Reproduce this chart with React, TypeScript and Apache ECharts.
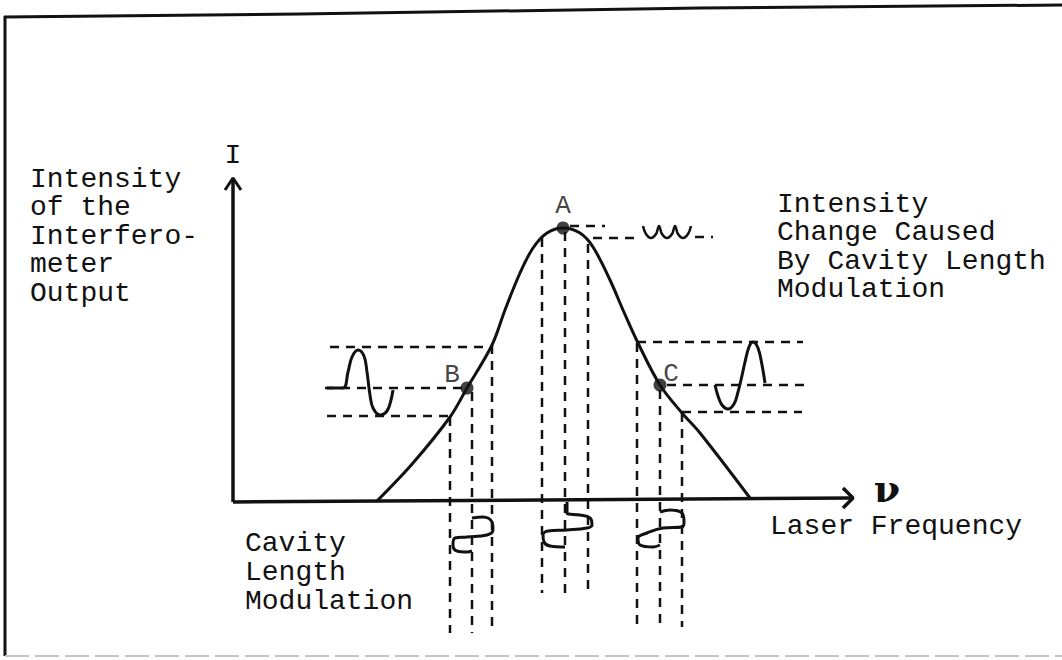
import React, { useEffect, useRef } from "react";
import * as echarts from "echarts";

const W = 1062;
const H = 660;
// page position of the diagram origin (ν = 0, I = 0)
const OX = 233;
const OY = 502;

// Interferometer transmission curve, [ν, I]
const curve: [number, number][] = [
  [144, 1], [180, 39], [217, 85], [234, 114], [259, 157], [272, 192], [287, 229],
  [300, 254], [314, 269], [330, 274], [347, 269], [360, 255], [377, 222], [390, 192],
  [405, 159], [427, 117], [449, 89], [467, 69], [517, 4],
];

// operating points
const pointNames = ["A", "B", "C"];
const pointValues: [number, number][] = [[330, 274], [234, 114], [427, 117]];

// vertical projection lines [ν, Itop, Ibottom]
const verticals: [number, number, number][] = [
  [217, 85, -131], [239, 110, -131], [259, 157, -131],
  [309, 264, -91], [332, 270, -91], [355, 258, -91],
  [404, 159, -125], [427, 112, -125], [449, 89, -125],
];

// horizontal projection lines [I, νstart, νend]
const horizontals: [number, number, number][] = [
  [155, 97, 259], [114, 92, 234], [86, 94, 217],
  [160, 404, 570], [117, 434, 574], [90, 449, 569],
  [276, 337, 372], [264, 360, 405], [265, 462, 480],
];

// intensity waveforms
const waveB: [number, number][] = [
  [94, 114], [110, 114], [115, 130], [119, 145], [125, 152], [131, 146], [134, 130],
  [137, 107], [140, 94], [147, 87], [154, 91], [158, 102], [160, 112],
];
const waveC: [number, number][] = [
  [482, 117], [485, 106], [489, 97], [495, 93], [501, 98], [505, 110], [508, 122],
  [512, 140], [516, 155], [520, 160], [525, 154], [529, 137], [532, 119],
];
const waveA: [number, number][] = [
  [410, 276], [413, 268], [418, 264], [423, 268], [426, 276], [429, 268], [434, 264],
  [439, 268], [442, 276], [445, 268], [450, 264], [455, 268], [458, 276],
];

// cavity length modulation glyphs below the axis
const modB: [number, number][] = [
  [239, -16], [250, -15], [259, -20], [260, -28], [254, -33], [234, -35], [222, -36],
  [220, -43], [224, -49], [234, -50], [239, -49],
];
const modA: [number, number][] = [
  [334, 0], [334, -11], [347, -13], [357, -16], [359, -23], [354, -26], [334, -28],
  [315, -29], [310, -33], [311, -40], [317, -44], [332, -45],
];
const modC: [number, number][] = [
  [427, -10], [437, -8], [449, -11], [451, -20], [449, -25], [430, -26], [414, -31],
  [405, -36], [407, -43], [420, -45], [427, -43],
];

// axes
const xAxisLine: [number, number][] = [[0, 0], [620, 4]];
const xArrow: [number, number][] = [[610, 14], [620, 4], [610, -6]];
const yAxisLine: [number, number][] = [[0, 0], [0, 324]];
const yArrow: [number, number][] = [[-8, 312], [0, 324], [8, 312]];

const leftLines = ["Intensity", "of the", "Interfero-", "meter", "Output"];
const rightLines = ["Intensity", "Change Caused", "By Cavity Length", "Modulation"];
const bottomLines = ["Cavity", "Length", "Modulation"];

const INK = "#111";
const MONO = '"Liberation Mono", monospace';
const FONT = `28px ${MONO}`;

function lineSeries(data: [number, number][], width: number, dashed: boolean, smooth: number | boolean = false) {
  return {
    type: "line",
    data,
    symbol: "none",
    smooth,
    silent: true,
    lineStyle: { color: INK, width, type: dashed ? [9, 7] : "solid", cap: "butt" },
    z: dashed ? 2 : 3,
  };
}

function textEl(text: string, x: number, y: number, font = FONT, align = "left") {
  return {
    type: "text",
    x,
    y,
    silent: true,
    style: {
      text,
      font,
      fill: INK,
      align,
      verticalAlign: "middle",
      textAlign: align,
      textVerticalAlign: "middle",
    },
  };
}

function buildOption() {
  const series: any[] = [];
  series.push(lineSeries(curve, 3, false, 0.35));
  verticals.forEach(([v, a, b]) => series.push(lineSeries([[v, a], [v, b]], 2.5, true)));
  horizontals.forEach(([i, a, b]) => series.push(lineSeries([[a, i], [b, i]], 2.5, true)));
  series.push(lineSeries(waveB, 3, false, 0.4));
  series.push(lineSeries(waveC, 3, false, 0.4));
  series.push(lineSeries(waveA, 2.5, false, 0.4));
  series.push(lineSeries(modB, 3, false, 0.4));
  series.push(lineSeries(modA, 3, false, 0.4));
  series.push(lineSeries(modC, 3, false, 0.4));
  series.push(lineSeries(xAxisLine, 3.5, false));
  series.push(lineSeries(xArrow, 3.5, false));
  series.push(lineSeries(yAxisLine, 3.5, false));
  series.push(lineSeries(yArrow, 3, false));

  const labelPos: Record<string, any> = {
    A: { position: "top", distance: 3 },
    B: { position: "inside", offset: [-15, -13] },
    C: { position: "inside", offset: [11, -11] },
  };
  series.push({
    type: "scatter",
    silent: true,
    symbolSize: 13,
    itemStyle: { color: INK },
    z: 5,
    data: pointNames.map((n, k) => ({
      name: n,
      value: pointValues[k],
      label: {
        show: true,
        formatter: n,
        fontSize: 26,
        fontFamily: MONO,
        color: INK,
        ...labelPos[n],
      },
    })),
  });

  const graphics: any[] = [];
  // frame of the scanned figure
  graphics.push({ type: "polyline", silent: true, shape: { points: [[4, 17], [300, 14], [700, 8], [1062, 5]] }, style: { stroke: INK, lineWidth: 3, fill: "none" } });
  graphics.push({ type: "line", silent: true, shape: { x1: 5, y1: 16, x2: 5, y2: 656 }, style: { stroke: INK, lineWidth: 3 } });
  graphics.push({ type: "line", silent: true, shape: { x1: 5, y1: 656, x2: 1062, y2: 656 }, style: { stroke: "#c4c4c4", lineWidth: 2, lineDash: [24, 6] } });

  leftLines.forEach((t, k) => graphics.push(textEl(t, 30, 179 + k * 28.5)));
  rightLines.forEach((t, k) => graphics.push(textEl(t, 777, 204 + k * 28.5)));
  bottomLines.forEach((t, k) => graphics.push(textEl(t, 245, 543 + k * 29)));
  graphics.push(textEl("Laser Frequency", 770, 526));
  graphics.push(textEl("I", 233, 155, FONT, "center"));
  graphics.push(textEl("ν", 887, 488, `bold 38px "DejaVu Serif", serif`, "center"));

  return {
    animation: false,
    backgroundColor: "#fff",
    grid: { left: 0, right: 0, top: 0, bottom: 0 },
    xAxis: { type: "value", min: -OX, max: W - OX, show: false },
    yAxis: { type: "value", min: -(H - OY), max: OY, show: false },
    series,
    graphic: graphics,
  };
}

export default function App() {
  const ref = useRef<HTMLDivElement>(null);
  useEffect(() => {
    const chart = echarts.init(ref.current!, undefined, { renderer: "svg" });
    chart.setOption(buildOption() as any);
    return () => chart.dispose();
  }, []);
  return (
    <div
      ref={ref}
      style={{ position: "absolute", left: 0, top: 0, width: W, height: H, background: "#fff" }}
    />
  );
}
